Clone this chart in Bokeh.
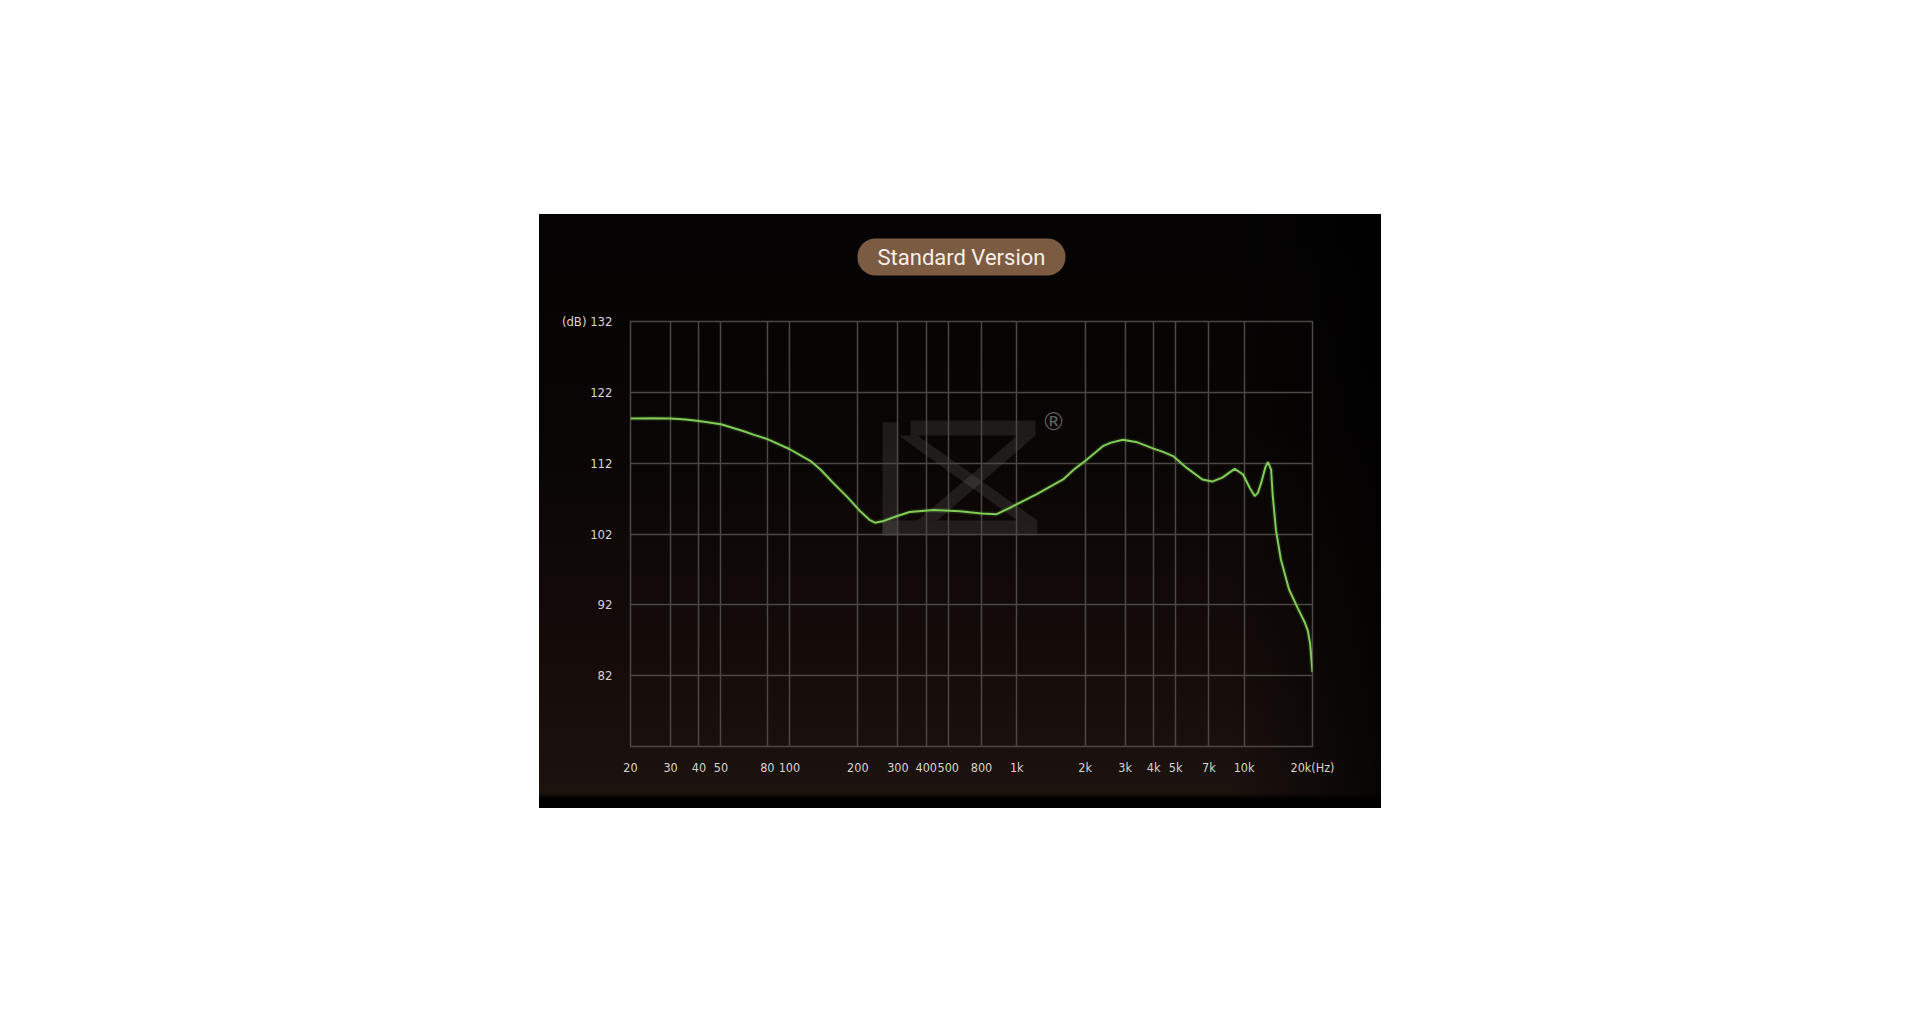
from bokeh.plotting import figure
from bokeh.models import FixedTicker, Label, PolyAnnotation, Spacer, Title
from bokeh.layouts import column, row
from bokeh.embed import file_html
from bokeh.resources import INLINE

# ---- data ----
freq_hz = [20, 25, 30, 35, 40, 50, 63, 70, 80, 100, 124, 137, 156, 180, 205, 225, 238,
           260, 296, 338, 430, 562, 700, 816, 932, 1220, 1600, 1800, 2000, 2390, 2600,
           2930, 3350, 4000, 4400, 4870, 5560, 6560, 7240, 8020, 9100, 9900, 10600,
           11140, 11500, 11900, 12400, 12730, 13150, 13370, 13820, 14520, 15760, 17240,
           18500, 19060, 19530, 20000]
spl_db = [118.3, 118.35, 118.3, 118.15, 117.95, 117.5, 116.5, 116.0, 115.4, 114.0, 112.3,
          111.1, 109.2, 107.2, 105.2, 104.0, 103.6, 103.85, 104.5, 105.1, 105.4, 105.2,
          104.9, 104.8, 105.7, 107.6, 109.7, 111.2, 112.3, 114.4, 114.9, 115.3, 115.0,
          114.05, 113.6, 113.0, 111.4, 109.7, 109.4, 109.95, 111.2, 110.4, 108.5, 107.35,
          107.8, 109.25, 111.4, 112.15, 111.1, 107.4, 102.5, 98.4, 94.2, 91.5, 89.5, 88.4,
          86.5, 82.5]

x_ticks = [20, 30, 40, 50, 80, 100, 200, 300, 400, 500, 700, 1000, 2000, 3000, 4000,
           5000, 7000, 10000, 20000]
x_tick_labels = ["20", "30", "40", "50", "80", "100", "200", "300", "400", "500", "800",
                 "1k", "2k", "3k", "4k", "5k", "7k", "10k", "20k(Hz)"]
y_ticks = [82, 92, 102, 112, 122, 132]
y_tick_labels = ["82", "92", "102", "112", "122", "(dB) 132"]
title_text = "Standard Version"

# ---- styling ----
GRID = "#4d4744"
LABEL = "#d9d3cd"
FONT = "'Liberation Sans Narrow', 'DejaVu Sans Condensed', 'Noto Sans', sans-serif"
TOP_GAP = 24  # white strip above the dark panel inside the figure element

title = Title(text=title_text, align="left", offset=227, standoff=92,
              text_color="#f7efe4", text_font="Roboto", text_font_size="22px",
              text_font_style="normal", background_fill_color="#7b5b42",
              border_radius=18, padding=(20, 6))

p = figure(width=842, height=594 + TOP_GAP, x_axis_type="log", x_range=(20, 20000),
           y_range=(72, 132), output_backend="svg", toolbar_location=None,
           min_border_left=91, min_border_right=69, min_border_top=107,
           min_border_bottom=62, title=title)

p.background_fill_alpha = 0
p.border_fill_alpha = 0
p.styles = {"background":
            f"linear-gradient(to bottom, #ffffff 0px, #ffffff {TOP_GAP}px, rgba(255,255,255,0) {TOP_GAP}px), "
            "linear-gradient(to right, rgba(0,0,0,0) 82%, rgba(0,0,0,0.75) 100%), "
            f"linear-gradient(to bottom, #050303 {TOP_GAP}px, #080504 232px, #150c09 469px, "
            "#1c120e 603px, #000000 609px)"}
p.outline_line_color = GRID
p.outline_line_width = 1.5

p.xaxis.ticker = FixedTicker(ticks=x_ticks, minor_ticks=[])
p.xaxis.major_label_overrides = {float(t): s for t, s in zip(x_ticks, x_tick_labels)}
p.yaxis.ticker = FixedTicker(ticks=y_ticks, minor_ticks=[])
p.yaxis.major_label_overrides = {float(t): s for t, s in zip(y_ticks, y_tick_labels)}

for ax in (p.xaxis, p.yaxis):
    ax.axis_line_color = None
    ax.major_tick_line_color = None
    ax.minor_tick_line_color = None
    ax.major_label_text_color = LABEL
    ax.major_label_text_font = FONT
    ax.major_label_text_font_size = "13px"
p.xaxis.major_label_text_font_size = "12.5px"
p.xaxis.major_label_standoff = 7
p.yaxis.major_label_standoff = 12

p.xgrid.grid_line_color = GRID
p.ygrid.grid_line_color = GRID
p.xgrid.grid_line_width = 1.5
p.ygrid.grid_line_width = 1.5

# watermark logo (decoration, canvas pixels)
logo_shapes = [
    ([343, 359, 359, 343], [208, 208, 321, 321]),        # K upright
    ([371, 496, 496, 371], [206, 206, 221, 221]),        # Z top bar
    ([478, 496, 398, 378], [221, 221, 306, 306]),        # Z diagonal
    ([359, 378, 498, 478], [221, 221, 306, 306]),        # K leg
    ([343, 498, 498, 343], [306, 306, 321, 321]),        # bottom bar
]
for xs, ys in logo_shapes:
    p.add_layout(PolyAnnotation(xs=xs, ys=[v + TOP_GAP for v in ys], xs_units="canvas",
                                ys_units="canvas", fill_color="#9a9a9a", fill_alpha=0.15,
                                line_color=None, level="image"))

p.add_layout(Label(x=514, y=207 + TOP_GAP, x_units="canvas", y_units="canvas", text="®",
                   text_color="#5e5e5e", text_font_size="24px", text_align="center",
                   text_baseline="middle", text_font="DejaVu Sans"))

# curve
p.line(freq_hz, spl_db, line_color="#7cc653", line_width=5, line_alpha=0.13)
p.line(freq_hz, spl_db, line_color="#82cc57", line_width=2)

layout = column(Spacer(height=214 - TOP_GAP), row(Spacer(width=539), p))
open("out.html", "w").write(file_html(layout, INLINE))
